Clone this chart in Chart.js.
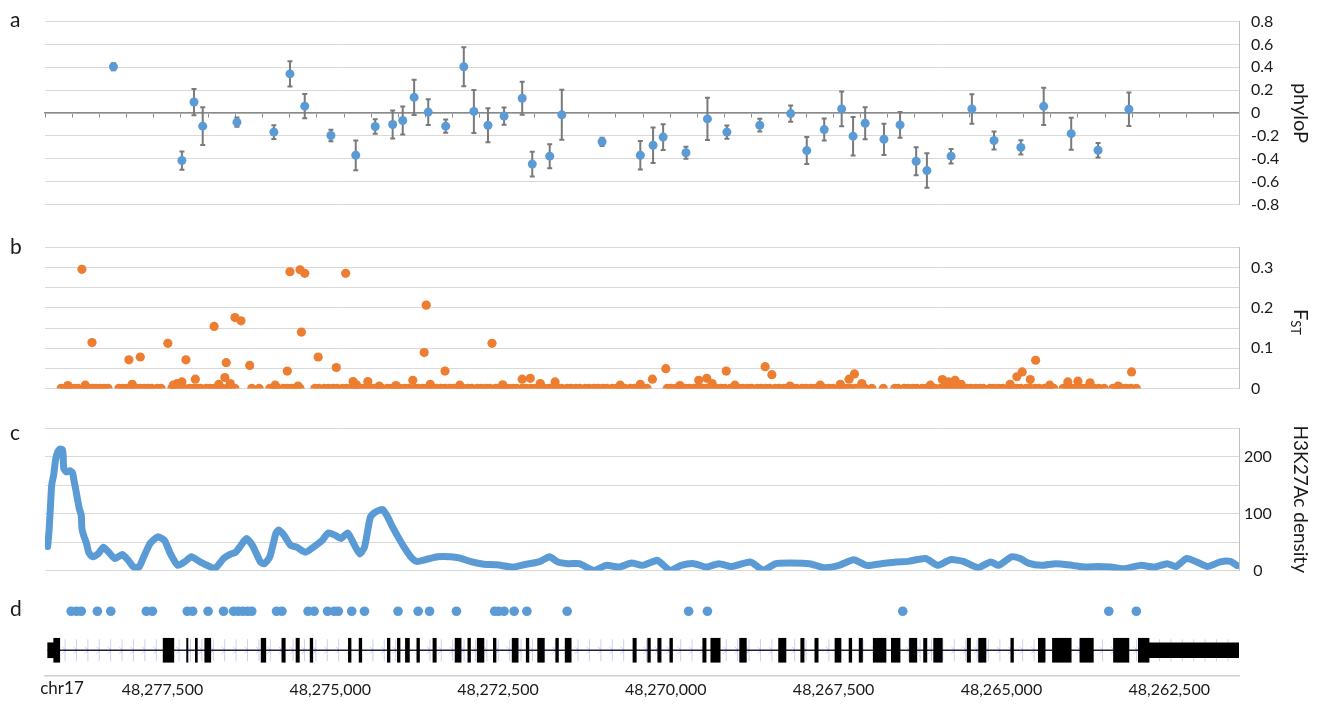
<!DOCTYPE html>
<html>
<head>
<meta charset="utf-8">
<script src="https://cdn.jsdelivr.net/npm/chart.js@4.4.1/dist/chart.umd.min.js"></script>
<style>
  html, body { margin: 0; padding: 0; background: #fff; }
  #fig { position: relative; width: 1322px; height: 704px; overflow: hidden; font-family: Lato, sans-serif; }
  #fig canvas { position: absolute; left: 0; }
  .lbl { position: absolute; left: 10px; font-size: 21px; line-height: 1; color: #1a1a1a; }
</style>
</head>
<body>
<div id="fig">
  <canvas id="cA" width="1322" height="226" style="top:0px"></canvas>
  <canvas id="cB" width="1322" height="184" style="top:226px"></canvas>
  <canvas id="cC" width="1322" height="176" style="top:410px"></canvas>
  <canvas id="cD" width="1322" height="118" style="top:586px"></canvas>
  <div class="lbl" style="top:8px">a</div>
  <div class="lbl" style="top:235px">b</div>
  <div class="lbl" style="top:421px">c</div>
  <div class="lbl" style="top:597px">d</div>
</div>
<script>
// genomic window shown (chr17, minus strand so drawn right-to-left)
const X_MIN = 48261460;
const X_MAX = 48279250;
const posTicks = [48277500, 48275000, 48272500, 48270000, 48267500, 48265000, 48262500];

// ---- a: phyloP -----------------------------------------------------
const phyloPos = [48278230, 48277210, 48277030, 48276900, 48276390, 48275840, 48275600, 48275380, 48274990, 48274620,
                  48274330, 48274070, 48273920, 48273750, 48273540, 48273280, 48273010, 48272860, 48272650, 48272410,
                  48272140, 48271990, 48271730, 48271550, 48270950, 48270380, 48270190, 48270040, 48269700, 48269380,
                  48269090, 48268600, 48268140, 48267900, 48267640, 48267380, 48267210, 48267030, 48266750, 48266510,
                  48266270, 48266110, 48265750, 48265440, 48265110, 48264710, 48264370, 48263960, 48263560, 48263100];
const phyloVal = [0.405, -0.416, 0.096, -0.115, -0.08, -0.167, 0.342, 0.06, -0.197, -0.37,
                  -0.118, -0.101, -0.066, 0.137, 0.008, -0.115, 0.405, 0.014, -0.107, -0.027,
                  0.129, -0.447, -0.378, -0.016, -0.252, -0.37, -0.282, -0.211, -0.348, -0.052,
                  -0.167, -0.107, -0.005, -0.329, -0.145, 0.036, -0.203, -0.09, -0.23, -0.104,
                  -0.422, -0.504, -0.378, 0.036, -0.241, -0.301, 0.058, -0.181, -0.326, 0.033];
const phyloErr = [0.03, 0.08, 0.115, 0.165, 0.04, 0.06, 0.11, 0.107, 0.05, 0.13,
                  0.063, 0.123, 0.123, 0.155, 0.112, 0.058, 0.171, 0.188, 0.148, 0.075,
                  0.144, 0.108, 0.105, 0.219, 0.036, 0.125, 0.155, 0.112, 0.052, 0.185,
                  0.058, 0.056, 0.071, 0.118, 0.096, 0.153, 0.168, 0.14, 0.137, 0.112,
                  0.122, 0.151, 0.063, 0.129, 0.078, 0.062, 0.164, 0.14, 0.063, 0.147];
const phyloTicks = [-0.8, -0.6, -0.4, -0.2, 0, 0.2, 0.4, 0.6, 0.8];
const PHYLO_TICK_STEP = 405; // minor marks along the zero line

// ---- b: FST ----------------------------------------------------------
const fstPos = [48278700, 48278550, 48278000, 48277830, 48277420, 48277280, 48277210, 48277150, 48277010, 48276730,
                48276570, 48276550, 48276420, 48276330, 48276200, 48275640, 48275600, 48275450, 48275430, 48275380,
                48275180, 48274910, 48274770, 48274660, 48274440, 48273770, 48273600, 48273570, 48273290, 48272590,
                48272140, 48272020, 48271650, 48270200, 48270000, 48269510, 48269390, 48269100, 48268520, 48268420,
                48267270, 48267190, 48265880, 48265690, 48264770, 48264690, 48264570, 48264490, 48263060,
                48278910, 48278650, 48277950, 48277340, 48276660, 48276490, 48275820, 48275480, 48274610, 48274270,
                48274020, 48273510, 48273070, 48272430, 48271870, 48270680, 48270380, 48269790, 48269310, 48268970,
                48268150, 48267700, 48267400, 48267080, 48266060, 48265790, 48265600, 48264870, 48264280, 48264010,
                48263860, 48263680, 48263260];
const fstVal = [0.296, 0.114, 0.071, 0.078, 0.112, 0.012, 0.016, 0.071, 0.023, 0.154,
                0.027, 0.064, 0.176, 0.168, 0.057, 0.043, 0.29, 0.295, 0.14, 0.286,
                0.078, 0.052, 0.286, 0.017, 0.017, 0.02, 0.089, 0.207, 0.043, 0.112,
                0.023, 0.025, 0.016, 0.023, 0.049, 0.02, 0.025, 0.043, 0.054, 0.034,
                0.023, 0.036, 0.022, 0.02, 0.029, 0.041, 0.022, 0.07, 0.041,
                0.007, 0.008, 0.01, 0.008, 0.01, 0.012, 0.008, 0.006, 0.009, 0.006,
                0.007, 0.01, 0.008, 0.009, 0.012, 0.008, 0.01, 0.007, 0.012, 0.008,
                0.006, 0.008, 0.01, 0.012, 0.008, 0.016, 0.01, 0.01, 0.008, 0.016,
                0.018, 0.014, 0.006];
// SNPs with FST = 0
const fstZeroPos = [
  48279010, 48278950, 48278890, 48278820, 48278760, 48278680, 48278620, 48278550, 48278490, 48278430, 48278370, 48278310,
  48278150, 48278090, 48278030, 48277970, 48277890, 48277830, 48277770, 48277710, 48277660, 48277580, 48277520,
  48277360, 48277300, 48277240, 48277180, 48277100, 48277040, 48276980, 48276930, 48276850, 48276790, 48276730,
  48276670, 48276610, 48276540, 48276480, 48276420,
  48276170, 48276060,
  48275900, 48275840, 48275780, 48275700, 48275640, 48275580, 48275520, 48275450,
  48275230, 48275170, 48275090, 48275030, 48274960, 48274900, 48274820, 48274760, 48274690, 48274630,
  48274560, 48274500, 48274420, 48274360, 48274290, 48274230, 48274150, 48274090, 48274020, 48273960,
  48273890, 48273830, 48273750, 48273690, 48273620, 48273560, 48273480, 48273420, 48273350, 48273290,
  48273220, 48273160, 48273080, 48273020, 48272950, 48272890, 48272810, 48272750, 48272680, 48272620,
  48272540, 48272490, 48272410, 48272350, 48272280, 48272220, 48272140, 48272080, 48272010, 48271950,
  48271870, 48271810, 48271740, 48271680, 48271610, 48271550, 48271470, 48271410, 48271340, 48271280,
  48271200, 48271140, 48271070, 48271010, 48270940, 48270880, 48270800, 48270740, 48270670, 48270610,
  48270530, 48270470, 48270400, 48270340, 48270280,
  48269980, 48269920, 48269850, 48269790, 48269710, 48269650, 48269580, 48269520, 48269450, 48269390,
  48269310, 48269250, 48269180, 48269120, 48269040, 48268980, 48268910, 48268850, 48268780, 48268720,
  48268640, 48268580, 48268510, 48268450, 48268370, 48268310, 48268240, 48268180, 48268100, 48268050,
  48267970, 48267910, 48267840, 48267780, 48267700, 48267640, 48267570, 48267510, 48267430, 48267370,
  48267300, 48267240, 48267170,
  48267030, 48266930, 48266760,
  48266590, 48266540, 48266450, 48266390, 48266320, 48266260, 48266180, 48266120, 48266050, 48265990,
  48265910, 48265850, 48265780, 48265720, 48265650, 48265590, 48265510, 48265450, 48265380, 48265320, 48265270,
  48265170, 48265110, 48265040, 48264980, 48264900, 48264840, 48264770, 48264710, 48264630, 48264570,
  48264500, 48264440, 48264360, 48264290, 48264220,
  48264080, 48264020, 48263950, 48263890, 48263810, 48263750, 48263680, 48263620, 48263550, 48263470,
  48263340, 48263280, 48263200, 48263140, 48263070, 48262990];
const fstTicks = [0, 0.05, 0.1, 0.15, 0.2, 0.25, 0.3, 0.35];

// ---- c: H3K27Ac density ----------------------------------------------
const h3Pos = [48279210, 48279190, 48279170, 48279150, 48279120, 48279100, 48279070, 48279030, 48278990, 48278980,
               48278970, 48278930, 48278880, 48278840, 48278820, 48278790, 48278770, 48278740, 48278710, 48278700,
               48278670, 48278630, 48278600, 48278540, 48278460, 48278380, 48278300, 48278210, 48278100, 48278010,
               48277930, 48277850, 48277760, 48277680, 48277570, 48277470, 48277380, 48277270, 48277160, 48277070,
               48276940, 48276780, 48276720, 48276590, 48276500, 48276410, 48276330, 48276250, 48276160, 48276040,
               48275980, 48275900, 48275810, 48275770, 48275690, 48275590, 48275500, 48275370, 48275250, 48275120,
               48275030, 48274930, 48274840, 48274740, 48274650, 48274560, 48274490, 48274450, 48274400, 48274320,
               48274220, 48274150, 48274070, 48273990, 48273900, 48273800, 48273710, 48273580, 48273400, 48273210,
               48273080, 48272890, 48272710, 48272520, 48272270, 48272080, 48271890, 48271730, 48271610, 48271450,
               48271290, 48271170, 48271060, 48270890, 48270700, 48270510, 48270350, 48270130, 48270090, 48269930,
               48269770, 48269580, 48269400, 48269210, 48269020, 48268740, 48268550, 48268360, 48268140, 48267860,
               48267640, 48267420, 48267200, 48267010, 48266790, 48266570, 48266390, 48266130, 48265950, 48265760,
               48265570, 48265350, 48265160, 48265040, 48264850, 48264720, 48264600, 48264410, 48264190, 48263940,
               48263750, 48263560, 48263370, 48263180, 48262930, 48262720, 48262530, 48262400, 48262240, 48262090,
               48261930, 48261740, 48261590, 48261490];
const h3Val = [42, 69, 110, 150, 168, 188, 205, 213, 212, 203,
               179, 173, 175, 171, 159, 141, 128, 109, 97, 74,
               60, 47, 32, 24, 29, 41, 32, 21, 28, 18,
               6, 6, 29, 48, 59, 53, 29, 9, 16, 24,
               15, 6, 3, 21, 28, 32, 44, 56, 44, 15,
               12, 24, 65, 71, 62, 44, 41, 32, 41, 53,
               66, 62, 56, 66, 47, 29, 41, 65, 94, 103,
               107, 95, 76, 59, 41, 24, 16, 19, 24, 24,
               22, 15, 11, 10, 6, 11, 15, 24, 15, 12,
               12, 5, 0, 9, 6, 13, 9, 18, 15, 0,
               9, 12, 6, 12, 7, 15, 1, 12, 13, 12,
               5, 9, 19, 9, 12, 15, 16, 21, 9, 19,
               16, 5, 15, 9, 24, 21, 13, 9, 12, 9,
               6, 7, 6, 3, 9, 6, 12, 7, 21, 15,
               7, 15, 16, 9];
const h3Ticks = [0, 50, 100, 150, 200, 250];

// ---- d: marks and gene model -------------------------------------------
const markPos = [48278860, 48278780, 48278710, 48278470, 48278270, 48277740, 48277650, 48277130, 48277050, 48276820,
                 48276590, 48276440, 48276370, 48276300, 48276230, 48276170, 48275800, 48275720, 48275330, 48275240,
                 48275040, 48274940, 48274880, 48274680, 48274490, 48273990, 48273690, 48273520, 48273120, 48272550,
                 48272490, 48272410, 48272260, 48272070, 48271470, 48269660, 48269380, 48266470, 48263400, 48262990];
const geneSpan = [48279210, 48261460];
const utrExons = [[48279210, 48279120], [48262800, 48261460]];
const codingExons = [
  [48279120, 48279030], [48277490, 48277330], [48277140, 48277120], [48277010, 48276980], [48276870, 48276780],
  [48276030, 48275960], [48275720, 48275670], [48275510, 48275460], [48275300, 48275260], [48274730, 48274690],
  [48274570, 48274530], [48274150, 48274110], [48274000, 48273960], [48273880, 48273820], [48273710, 48273670],
  [48273470, 48273420], [48273140, 48273050], [48272950, 48272910], [48272810, 48272710], [48272570, 48272530],
  [48272290, 48272200], [48272080, 48272040], [48271910, 48271810], [48271640, 48271600], [48271500, 48271410],
  [48270490, 48270440], [48270270, 48270230], [48270120, 48270070], [48269940, 48269900], [48269450, 48269400],
  [48269330, 48269190], [48268900, 48268800], [48268320, 48268210], [48267990, 48267940], [48267780, 48267730],
  [48267480, 48267390], [48267270, 48267230], [48267120, 48267070], [48266910, 48266720], [48266640, 48266510],
  [48266370, 48266260], [48266160, 48266110], [48266010, 48265880], [48265510, 48265460], [48265340, 48265230],
  [48264860, 48264820], [48264450, 48264350], [48264240, 48263960], [48263830, 48263630], [48263330, 48263100],
  [48262960, 48262800]];
const MARK_ROW = 0.83;
const GENE_ROW = 0.33;

// ---- styling ------------------------------------------------------------
const BLUE = "#5b9bd5";
const ORANGE = "#ed7d31";
const GRID = "#d9d9d9";
const TEXT = "#1a1a1a";

Chart.defaults.font.family = "Lato, 'Open Sans', sans-serif";
Chart.defaults.color = TEXT;

const BASE = {
  responsive: false,
  animation: false,
  events: [],
  plugins: { legend: { display: false }, tooltip: { enabled: false } },
};
const xHidden = { type: "linear", reverse: true, min: X_MIN, max: X_MAX, offset: false, display: false };
const fixWidth = (s) => { s.width = 73; };
const setTicks = (arr) => (s) => { s.ticks = arr.map((v) => ({ value: v })); };
const fmtPos = (v) => String(v).replace(/\B(?=(\d{3})+(?!\d))/g, ",");

// error bars drawn behind the phyloP points
const errorBars = {
  id: "errorBars",
  beforeDatasetsDraw(chart) {
    const { ctx, scales: { x, y } } = chart;
    ctx.save();
    ctx.strokeStyle = "#7a7a7a";
    ctx.lineWidth = 2;
    phyloPos.forEach((p, i) => {
      const px = x.getPixelForValue(p);
      const top = y.getPixelForValue(phyloVal[i] + phyloErr[i]);
      const bot = y.getPixelForValue(phyloVal[i] - phyloErr[i]);
      ctx.beginPath();
      ctx.moveTo(px, top); ctx.lineTo(px, bot);
      ctx.moveTo(px - 2.5, top); ctx.lineTo(px + 2.5, top);
      ctx.moveTo(px - 2.5, bot); ctx.lineTo(px + 2.5, bot);
      ctx.stroke();
    });
    ctx.restore();
  },
};

// F with subscript ST as the axis title of panel b
const fstTitle = {
  id: "fstTitle",
  afterDraw(chart) {
    const { ctx, chartArea } = chart;
    const cy = (chartArea.top + chartArea.bottom) / 2 + 4;
    ctx.save();
    ctx.translate(1300, cy);
    ctx.rotate(Math.PI / 2);
    ctx.fillStyle = TEXT;
    ctx.textBaseline = "middle";
    ctx.font = "20px Lato, sans-serif";
    const wF = ctx.measureText("F").width;
    ctx.font = "13px Lato, sans-serif";
    const wS = ctx.measureText("ST").width;
    const x0 = -(wF + wS) / 2;
    ctx.font = "20px Lato, sans-serif";
    ctx.fillText("F", x0, 0);
    ctx.font = "13px Lato, sans-serif";
    ctx.fillText("ST", x0 + wF, 5);
    ctx.restore();
  },
};

// strand chevrons along the intron line, plus the chromosome name
const geneTrack = {
  id: "geneTrack",
  beforeDatasetsDraw(chart) {
    const { ctx, scales: { x, y } } = chart;
    const y0 = y.getPixelForValue(GENE_ROW);
    const x0 = x.getPixelForValue(geneSpan[0]);
    const x1 = x.getPixelForValue(geneSpan[1]);
    ctx.save();
    ctx.strokeStyle = "rgba(120,120,215,0.35)";
    ctx.lineWidth = 1;
    for (let px = x0 + 6; px < x1 - 4; px += 11.4) {
      ctx.beginPath();
      ctx.moveTo(px, y0 - 11); ctx.lineTo(px, y0 + 11);
      ctx.moveTo(px - 3, y0 - 3.5); ctx.lineTo(px + 0.5, y0); ctx.lineTo(px - 3, y0 + 3.5);
      ctx.stroke();
    }
    ctx.restore();
  },
  afterDraw(chart) {
    const { ctx, chartArea } = chart;
    ctx.save();
    ctx.fillStyle = TEXT;
    ctx.font = "17px Lato, sans-serif";
    ctx.textAlign = "center";
    ctx.textBaseline = "top";
    ctx.fillText("chr17", 62, chartArea.bottom + 4);
    ctx.restore();
  },
};

// ---- a ------------------------------------------------------------------
new Chart(document.getElementById("cA"), {
  type: "scatter",
  data: {
    datasets: [{
      data: phyloPos.map((p, i) => ({ x: p, y: phyloVal[i] })),
      backgroundColor: BLUE,
      borderWidth: 0,
      pointRadius: 4.5,
    }],
  },
  options: {
    ...BASE,
    layout: { padding: { left: 45, right: 10, top: 17, bottom: 15 } },
    scales: {
      x: {
        type: "linear", reverse: true, min: X_MIN, max: X_MAX,
        position: { y: 0 },
        afterBuildTicks: (s) => {
          const t = [];
          for (let v = X_MAX; v >= X_MIN; v -= PHYLO_TICK_STEP) t.push({ value: v });
          s.ticks = t;
        },
        grid: { drawOnChartArea: false, drawTicks: true, tickLength: 4, color: "#8a8a8a" },
        border: { color: "#8a8a8a", width: 1.5 },
        ticks: { display: false },
      },
      y: {
        position: "right", min: -0.8, max: 0.8,
        afterBuildTicks: setTicks(phyloTicks),
        afterFit: fixWidth,
        grid: { color: GRID, drawTicks: false },
        border: { color: "#bfbfbf" },
        ticks: { padding: 12, font: { size: 16 }, callback: (v) => (v === 0 ? "0" : v.toFixed(1)) },
        title: { display: true, text: "phyloP", font: { size: 20 }, padding: { top: 0, bottom: 0 } },
      },
    },
  },
  plugins: [errorBars],
});

// ---- b ------------------------------------------------------------------
new Chart(document.getElementById("cB"), {
  type: "scatter",
  data: {
    datasets: [
      { data: fstZeroPos.map((p) => ({ x: p, y: 0 })), backgroundColor: ORANGE, borderWidth: 0, pointRadius: 4.6 },
      { data: fstPos.map((p, i) => ({ x: p, y: fstVal[i] })), backgroundColor: ORANGE, borderWidth: 0, pointRadius: 4.6 },
    ],
  },
  options: {
    ...BASE,
    layout: { padding: { left: 45, right: 10, top: 10, bottom: 13 } },
    scales: {
      x: xHidden,
      y: {
        position: "right", min: 0, max: 0.35,
        afterBuildTicks: setTicks(fstTicks),
        afterFit: fixWidth,
        grid: { color: GRID, drawTicks: false },
        border: { color: "#bfbfbf" },
        ticks: {
          padding: 12, font: { size: 16 },
          callback: (v) => (Math.round(v * 20) % 2 === 0 ? (v === 0 ? "0" : v.toFixed(1)) : ""),
        },
      },
    },
  },
  plugins: [fstTitle],
});

// ---- c ------------------------------------------------------------------
new Chart(document.getElementById("cC"), {
  type: "line",
  data: {
    datasets: [{
      data: h3Pos.map((p, i) => ({ x: p, y: h3Val[i] })),
      borderColor: BLUE,
      backgroundColor: BLUE,
      borderWidth: 7,
      borderJoinStyle: "round",
      borderCapStyle: "round",
      pointRadius: 0,
      tension: 0.2,
    }],
  },
  options: {
    ...BASE,
    layout: { padding: { left: 45, right: 10, top: 18, bottom: 15.5 } },
    scales: {
      x: xHidden,
      y: {
        position: "right", min: 0, max: 250,
        afterBuildTicks: setTicks(h3Ticks),
        afterFit: fixWidth,
        grid: { color: GRID, drawTicks: false },
        border: { color: "#bfbfbf" },
        ticks: {
          padding: 5, crossAlign: "center", font: { size: 16 },
          callback: (v) => (v % 100 === 0 ? String(v) : ""),
        },
        title: { display: true, text: "H3K27Ac density", font: { size: 19 }, padding: { top: 0, bottom: 0 } },
      },
    },
  },
});

// ---- d ------------------------------------------------------------------
new Chart(document.getElementById("cD"), {
  type: "bar",
  data: {
    datasets: [
      {
        type: "scatter",
        data: markPos.map((p) => ({ x: p, y: MARK_ROW })),
        backgroundColor: BLUE, borderWidth: 0, pointRadius: 4.8, order: 0,
      },
      {
        type: "bar", indexAxis: "y", grouped: false, barThickness: 24,
        data: codingExons.map((e) => ({ x: e, y: GENE_ROW })),
        backgroundColor: "#000", borderWidth: 0, order: 1,
      },
      {
        type: "bar", indexAxis: "y", grouped: false, barThickness: 15,
        data: utrExons.map((e) => ({ x: e, y: GENE_ROW })),
        backgroundColor: "#000", borderWidth: 0, order: 2,
      },
      {
        type: "line",
        data: geneSpan.map((p) => ({ x: p, y: GENE_ROW })),
        borderColor: "#20203a", borderWidth: 1.6, pointRadius: 0, order: 3,
      },
    ],
  },
  options: {
    ...BASE,
    layout: { padding: { left: 45, right: 83, top: 12, bottom: 0 } },
    scales: {
      x: {
        type: "linear", reverse: true, min: X_MIN, max: X_MAX, position: "bottom", offset: false,
        afterBuildTicks: setTicks(posTicks),
        afterFit: (s) => { s.height = 28; },
        grid: { display: false, drawTicks: false, offset: false },
        border: { display: true, color: "#d0d0d0", width: 1.5 },
        ticks: { autoSkip: false, maxRotation: 0, padding: 4, font: { size: 16 }, callback: (v) => fmtPos(v) },
      },
      y: { type: "linear", min: 0, max: 1, offset: false, grid: { offset: false }, display: false },
    },
  },
  plugins: [geneTrack],
});
</script>
</body>
</html>
